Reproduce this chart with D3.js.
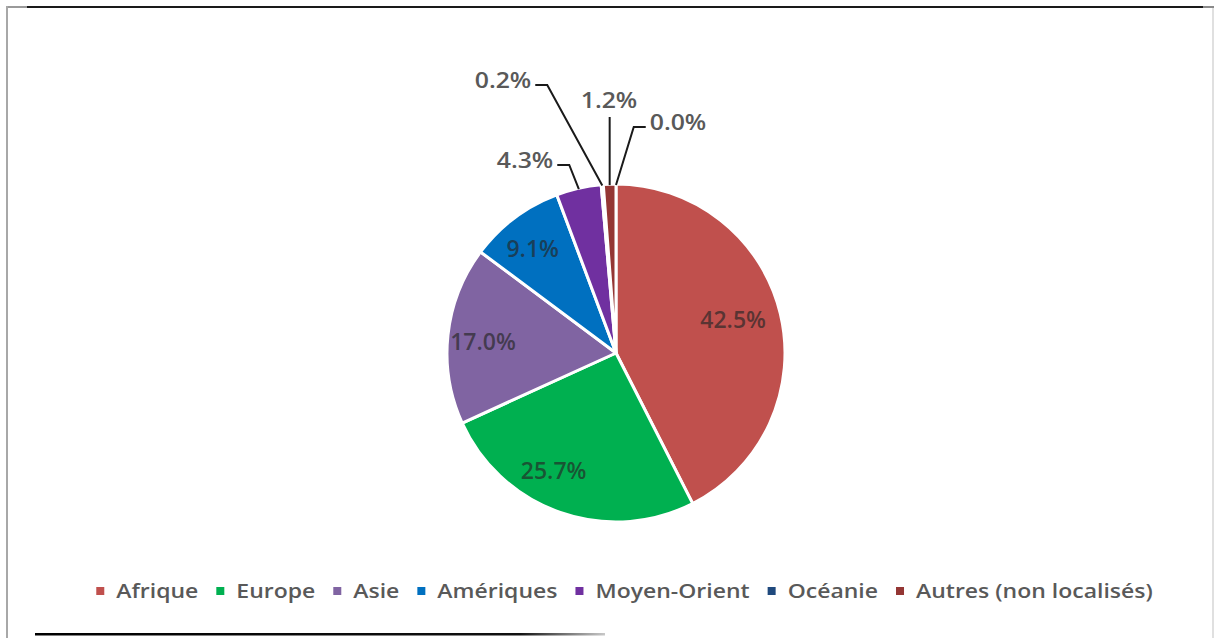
<!DOCTYPE html>
<html>
<head>
<meta charset="utf-8">
<script src="https://cdn.jsdelivr.net/npm/d3@7"></script>
<style>
  html, body { margin: 0; padding: 0; background: #fff; }
  svg { display: block; }
  text { font-family: "Open Sans", "Noto Sans", sans-serif; }
</style>
</head>
<body>
<svg id="chart" width="1217" height="638"></svg>
<script>
// Répartition par zone géographique
const categories = ["Afrique", "Europe", "Asie", "Amériques", "Moyen-Orient", "Océanie", "Autres (non localisés)", ""];
const shares = [42.5, 25.7, 17.0, 9.1, 4.3, 0.2, 1.2, 0.0];
const colors = ["#C0504D", "#00B050", "#8064A2", "#0070C0", "#7030A0", "#1F497D", "#943634", "#4F81BD"];

// Placement of the outside labels (relative to the pie centre) for the thin slices
const outsideLabels = {
  4: { dx: -91, dy: -193, side: "left" },
  5: { dx: -113, dy: -273, side: "left" },
  6: { dx: -7, dy: -253, side: "top" },
  7: { dx: 62, dy: -231, side: "right" }
};
// Inside labels: radial position (fraction of radius) and angular nudge (radians)
const insideLabelPos = {
  0: { r: 0.72, da: -0.04 },
  1: { r: 0.79, da: 0.15 },
  2: { r: 0.79, da: -0.02 },
  3: { r: 0.79, da: -0.03 }
};

const cx = 616, cy = 353, R = 169;
const textStretch = 1.18;
const legendStretch = 1.15;

const svg = d3.select("#chart");

// Frame
svg.append("line").attr("x1", 6).attr("x2", 27).attr("y1", 7).attr("y2", 7)
  .attr("stroke", "#9a9a9a").attr("stroke-width", 2);
svg.append("line").attr("x1", 27).attr("x2", 1203).attr("y1", 7).attr("y2", 7)
  .attr("stroke", "#1a1a1a").attr("stroke-width", 2);
svg.append("line").attr("x1", 1203).attr("x2", 1214).attr("y1", 7).attr("y2", 7)
  .attr("stroke", "#8a8a8a").attr("stroke-width", 2);
svg.append("line").attr("x1", 7).attr("x2", 7).attr("y1", 6).attr("y2", 638)
  .attr("stroke", "#a8a8a8").attr("stroke-width", 2);
svg.append("line").attr("x1", 1213).attr("x2", 1213).attr("y1", 8).attr("y2", 638)
  .attr("stroke", "#d6d6d6").attr("stroke-width", 1.5);

const grad = svg.append("defs").append("linearGradient").attr("id", "bottomFade")
  .attr("x1", "0%").attr("x2", "100%");
grad.append("stop").attr("offset", "0%").attr("stop-color", "#000");
grad.append("stop").attr("offset", "85%").attr("stop-color", "#111");
grad.append("stop").attr("offset", "100%").attr("stop-color", "#c8c8c8");
svg.append("rect").attr("x", 35).attr("y", 633).attr("width", 570).attr("height", 2.5)
  .attr("fill", "url(#bottomFade)");

// Pie
const data = categories.map((c, i) => ({ name: c, value: shares[i], color: colors[i], idx: i }));
const pie = d3.pie().sort(null).value(d => d.value);
const arcs = pie(data);
const arc = d3.arc().innerRadius(0).outerRadius(R);

const g = svg.append("g").attr("transform", `translate(${cx},${cy})`);

g.selectAll("path.slice")
  .data(arcs.filter(d => d.data.value > 0))
  .join("path")
  .attr("class", "slice")
  .attr("d", arc)
  .attr("fill", d => d.data.color)
  .attr("stroke", "#fff")
  .attr("stroke-width", 3)
  .attr("stroke-linejoin", "round");

const fmt = v => v.toFixed(1) + "%";

// Inside labels
g.selectAll("text.inside")
  .data(arcs.filter(d => !(d.index in outsideLabels)))
  .join("text")
  .attr("class", "inside")
  .attr("transform", d => {
    const p = insideLabelPos[d.index] || { r: 0.76, da: 0 };
    const a = (d.startAngle + d.endAngle) / 2 + p.da;
    return `translate(${Math.sin(a) * R * p.r},${-Math.cos(a) * R * p.r})`;
  })
  .attr("text-anchor", "middle")
  .attr("dy", "0.36em")
  .attr("font-size", 23)
  .attr("font-weight", 600)
  .attr("fill", "#262626")
  .attr("fill-opacity", 0.68)
  .text(d => fmt(d.data.value));

// Outside labels with leader lines
arcs.filter(d => d.index in outsideLabels).forEach(d => {
  const o = outsideLabels[d.index];
  const t = g.append("text")
    .attr("transform", `translate(${o.dx},${o.dy}) scale(${textStretch},1)`)
    .attr("text-anchor", "middle")
    .attr("dy", "0.36em")
    .attr("font-size", 21)
    .attr("font-weight", 600)
    .attr("fill", "#595959")
    .text(fmt(d.data.value));
  const bb = t.node().getBBox();
  const halfW = bb.width * textStretch / 2;
  const mid = (d.startAngle + d.endAngle) / 2;
  const p = [Math.sin(mid) * (R - 1), -Math.cos(mid) * (R - 1)];
  let pts;
  if (o.side === "left") {
    const x0 = o.dx + halfW + 4, y0 = o.dy + 5;
    pts = [[x0, y0], [x0 + 12, y0], p];
  } else if (o.side === "right") {
    const x0 = o.dx - halfW - 4, y0 = o.dy + 5;
    pts = [[x0, y0], [x0 - 12, y0], p];
  } else {
    pts = [[p[0], o.dy + 17], p];
  }
  g.append("path")
    .attr("d", d3.line()(pts))
    .attr("fill", "none")
    .attr("stroke", "#1a1a1a")
    .attr("stroke-width", 2);
});

// Legend
const legendItems = data.filter(d => d.name !== "");
const legend = svg.append("g");
let x = 0;
const items = legend.selectAll("g.item").data(legendItems).join("g").attr("class", "item");
items.each(function(d) {
  const it = d3.select(this);
  it.append("rect").attr("x", 0).attr("y", -4).attr("width", 8).attr("height", 8).attr("fill", d.color);
  const t = it.append("text")
    .attr("transform", `translate(20,0) scale(${legendStretch},1)`)
    .attr("dy", "0.35em")
    .attr("font-size", 20)
    .attr("font-weight", 600)
    .attr("fill", "#595959")
    .text(d.name);
  const w = t.node().getComputedTextLength() * legendStretch;
  it.attr("transform", `translate(${x},0)`);
  x += 20 + w + 18;
});
const totalW = x - 18;
legend.attr("transform", `translate(${624.5 - totalW / 2},591)`);
</script>
</body>
</html>
